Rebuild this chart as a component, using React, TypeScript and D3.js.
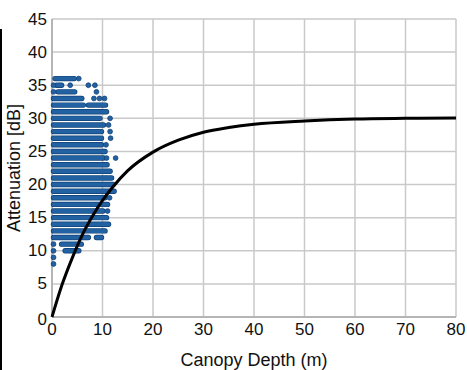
import React from "react";
import * as d3 from "d3";

// Attenuation model curve (canopy depth m, attenuation dB)
const curveDepth = [0, 2, 4, 6, 8, 10, 12, 15, 20, 25, 30, 35, 40, 50, 60, 70, 80];
const curveAtten = [0, 4.9, 8.9, 12.4, 15.2, 17.6, 19.6, 22.1, 24.9, 26.7, 27.9, 28.6, 29.1, 29.6, 29.9, 30.0, 30.05];

// Dense runs of measurements: [attenuation dB, depth from, depth to]
const denseRuns: [number, number, number][] = [
  [36, 0.6, 4.4], [35, 0.9, 1.9], [34, 1.2, 4.5], [33, 0.3, 5.9],
  [32, 0.3, 6.2], [32, 7.2, 10.6], [31, 0.3, 10.8], [30, 0.3, 9.5],
  [29, 0.3, 10.2], [28, 0.3, 9.8], [27, 0.3, 9.8], [26, 0.3, 9.8],
  [25, 0.3, 10.5], [24, 0.3, 10.2], [23, 0.3, 10.9], [22, 0.3, 11.5],
  [21, 0.3, 11.8], [20, 0.3, 12.1], [19, 0.3, 12.3], [18, 0.3, 10.5],
  [17, 0.3, 11.0], [16, 0.3, 10.1], [15, 0.3, 10.8], [14, 0.3, 11.2],
  [13, 0.3, 10.5], [12, 0.3, 7.2], [12, 8.8, 9.8], [11, 1.9, 5.8],
  [10, 2.6, 5.3],
];

// Isolated measurements: [attenuation dB, depth]
const singlePoints: [number, number][] = [
  [36, 5.3], [35, 0.3], [35, 3.6], [35, 7.2], [35, 8.5], [34, 0.3], [34, 8.8],
  [33, 8.3], [33, 9.4], [33, 10.4], [30, 11.5], [29, 11.2], [28, 11.5],
  [27, 11.6], [26, 10.7], [24, 10.8], [24, 12.6], [18, 11.4], [16, 11.0],
  [11, 0.3], [10, 0.3], [9, 0.3], [8, 0.3],
];

const xTicks = [0, 10, 20, 30, 40, 50, 60, 70, 80];
const yTicks = [0, 5, 10, 15, 20, 25, 30, 35, 40, 45];

const W = 467;
const H = 370;
const L = 52, R = 456, T = 19, B = 317;
const FONT = "'Liberation Sans', Arial, sans-serif";
const GRID = "#c9c9c9";
const DOT = "#2262a3";
const DOT_EDGE = "#0f4176";

export default function App() {
  const x = d3.scaleLinear().domain([0, 80]).range([L, R]);
  const y = d3.scaleLinear().domain([0, 45]).range([B, T]);
  const line = d3
    .line<number>()
    .x((_, i) => x(curveDepth[i]))
    .y((d) => y(d))
    .curve(d3.curveMonotoneX);

  return (
    <div style={{ position: "fixed", left: 0, top: 0 }}>
      <svg width={W} height={H} style={{ display: "block", background: "#fff" }} fontFamily={FONT}>
        {/* grid */}
        {xTicks.map((t) => (
          <line key={"gx" + t} x1={x(t)} x2={x(t)} y1={T} y2={B} stroke={GRID} strokeWidth={1.5} />
        ))}
        {yTicks.map((t) => (
          <line key={"gy" + t} x1={L} x2={R} y1={y(t)} y2={y(t)} stroke={GRID} strokeWidth={1.5} />
        ))}
        <line x1={L} x2={R} y1={B} y2={B} stroke="#aaaaaa" strokeWidth={1.5} />
        <line x1={L} x2={L} y1={T} y2={B} stroke="#aaaaaa" strokeWidth={1.5} />

        {/* dense runs */}
        <g strokeLinecap="round">
          {denseRuns.map(([a, f, t], i) => (
            <g key={"r" + i}>
              <line x1={x(f)} x2={x(t)} y1={y(a)} y2={y(a)} stroke={DOT_EDGE} strokeWidth={5.4} />
              <line x1={x(f)} x2={x(t)} y1={y(a)} y2={y(a)} stroke={DOT} strokeWidth={4} />
            </g>
          ))}
        </g>
        {singlePoints.map(([a, d], i) => (
          <circle key={"p" + i} cx={x(d)} cy={y(a)} r={2.4} fill={DOT} stroke={DOT_EDGE} strokeWidth={0.8} />
        ))}

        {/* curve */}
        <path d={line(curveAtten) || ""} fill="none" stroke="#000" strokeWidth={3} />

        {/* tick labels */}
        {xTicks.map((t) => (
          <text key={"tx" + t} x={x(t)} y={335} fontSize={17} textAnchor="middle" fill="#111">
            {t}
          </text>
        ))}
        {yTicks.map((t) => (
          <text
            key={"ty" + t}
            x={47}
            y={y(t) + (t === 0 ? 2 : 0)}
            fontSize={17}
            textAnchor="end"
            dominantBaseline="central"
            fill="#111"
          >
            {t}
          </text>
        ))}

        {/* axis titles */}
        <text x={(L + R) / 2} y={366} fontSize={18} textAnchor="middle" fill="#111">
          Canopy Depth (m)
        </text>
        <text
          transform={`translate(20,${(T + B) / 2}) rotate(-90)`}
          fontSize={18}
          textAnchor="middle"
          fill="#111"
        >
          Attenuation [dB]
        </text>

        {/* left border line */}
        <line x1={1} x2={1} y1={29} y2={H} stroke="#000" strokeWidth={2} />
      </svg>
    </div>
  );
}
